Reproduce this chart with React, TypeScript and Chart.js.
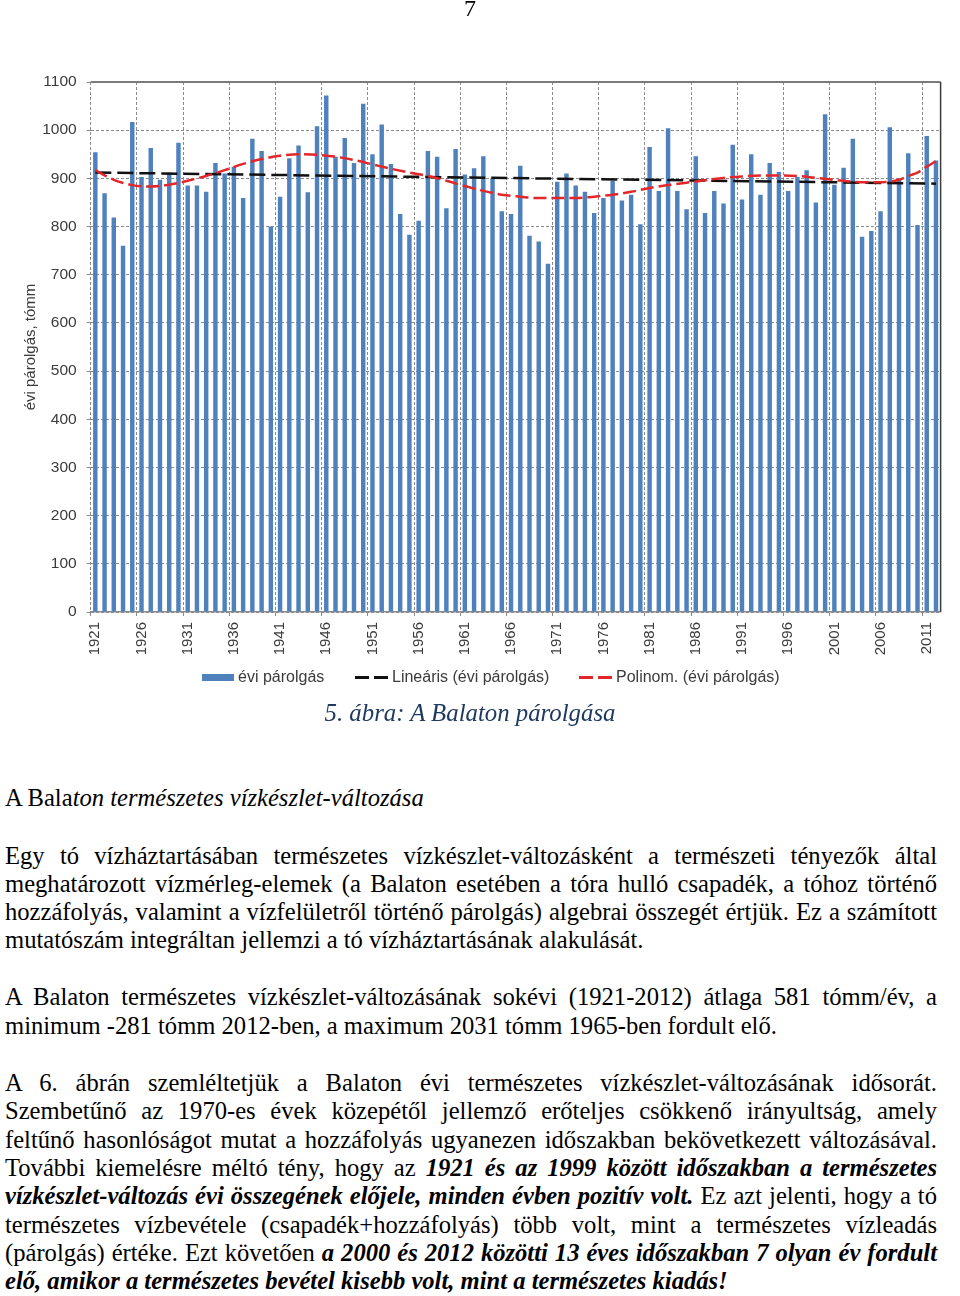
import React, { useEffect, useLayoutEffect, useRef } from 'react';
import { Chart, registerables } from 'chart.js';

Chart.register(...registerables);

// ---------- DATA ----------
const years = [
  '1921', '1922', '1923', '1924', '1925', '1926', '1927', '1928', '1929', '1930',
  '1931', '1932', '1933', '1934', '1935', '1936', '1937', '1938', '1939', '1940',
  '1941', '1942', '1943', '1944', '1945', '1946', '1947', '1948', '1949', '1950',
  '1951', '1952', '1953', '1954', '1955', '1956', '1957', '1958', '1959', '1960',
  '1961', '1962', '1963', '1964', '1965', '1966', '1967', '1968', '1969', '1970',
  '1971', '1972', '1973', '1974', '1975', '1976', '1977', '1978', '1979', '1980',
  '1981', '1982', '1983', '1984', '1985', '1986', '1987', '1988', '1989', '1990',
  '1991', '1992', '1993', '1994', '1995', '1996', '1997', '1998', '1999', '2000',
  '2001', '2002', '2003', '2004', '2005', '2006', '2007', '2008', '2009', '2010',
  '2011', '2012',
];

const evaporation = [
  954, 869, 819, 760, 1017, 903, 963, 897, 912, 974,
  885, 885, 872, 932, 910, 924, 859, 982, 957, 800,
  862, 942, 968, 871, 1008, 1072, 945, 984, 932, 1055,
  950, 1012, 930, 826, 783, 812, 957, 945, 838, 961,
  908, 921, 946, 900, 832, 826, 926, 781, 769, 723,
  893, 910, 885, 872, 828, 859, 895, 854, 866, 805,
  965, 874, 1004, 874, 836, 946, 828, 874, 848, 970,
  856, 950, 866, 932, 913, 874, 903, 917, 850, 1033,
  887, 922, 982, 779, 791, 832, 1006, 897, 952, 803,
  988, 937,
];

const linearYears = ['1921', '2012'];
const linearValues = [912, 889];

const polyYears = [
  '1921', '1923', '1925', '1927', '1929', '1931', '1933', '1935', '1937', '1939',
  '1941', '1943', '1945', '1947', '1949', '1951', '1953', '1955', '1957', '1959',
  '1961', '1963', '1965', '1967', '1969', '1971', '1973', '1975', '1977', '1979',
  '1981', '1983', '1985', '1987', '1989', '1991', '1993', '1995', '1997', '1999',
  '2001', '2003', '2005', '2007', '2008', '2009', '2010', '2011', '2012',
];
const polyValues = [
  917, 897, 886, 883, 887, 895, 905, 917, 930, 940,
  947, 950, 949, 945, 938, 929, 920, 912, 905, 895,
  884, 874, 866, 862, 859, 859, 859, 862, 866, 872,
  880, 886, 891, 896, 901, 904, 906, 906, 905, 901,
  897, 893, 892, 893, 897, 905, 912, 924, 936,
];

const yTitle = 'évi párolgás, tómm';
const legendBar = 'évi párolgás';
const legendLinear = 'Lineáris (évi párolgás)';
const legendPoly = 'Polinom. (évi párolgás)';

const BAR_COLOR = '#4f81bd';
const RED = '#e3262a';
const GRID = '#8c8c8c';
const TICK_TEXT = '#3b3b3b';
const SANS = '"Liberation Sans", Arial, sans-serif';
const SERIF = '"Liberation Serif", "Times New Roman", serif';
const BODY_SIZE = 24.6;

function EvapChart() {
  const ref = useRef<HTMLCanvasElement>(null);
  useEffect(() => {
    if (!ref.current) return;
    const framePlugin = {
      id: 'frame',
      afterDraw(chart: any) {
        const { ctx, chartArea: a } = chart;
        ctx.save();
        ctx.strokeStyle = '#7a7a7a';
        ctx.lineWidth = 2;
        ctx.beginPath();
        ctx.moveTo(a.left, a.top);
        ctx.lineTo(a.right, a.top);
        ctx.stroke();
        ctx.strokeStyle = '#3a3a3a';
        ctx.lineWidth = 1.5;
        ctx.beginPath();
        ctx.moveTo(a.right, a.top);
        ctx.lineTo(a.right, a.bottom);
        ctx.stroke();
        ctx.restore();
      },
    };
    const gridColor = (c: any) => (c.index % 5 === 0 ? GRID : 'rgba(0,0,0,0)');
    const chart = new Chart(ref.current, {
      type: 'bar',
      data: {
        labels: years,
        datasets: [
          {
            type: 'line',
            label: legendPoly,
            data: polyYears.map((y, i) => ({ x: y, y: polyValues[i] })),
            borderColor: RED,
            borderWidth: 2.5,
            borderDash: [13, 5],
            pointRadius: 0,
            cubicInterpolationMode: 'monotone',
            order: 0,
          } as any,
          {
            type: 'line',
            label: legendLinear,
            data: linearYears.map((y, i) => ({ x: y, y: linearValues[i] })),
            borderColor: '#111111',
            borderWidth: 2.5,
            borderDash: [16, 6],
            pointRadius: 0,
            order: 1,
          } as any,
          {
            type: 'bar',
            label: legendBar,
            data: evaporation,
            backgroundColor: BAR_COLOR,
            barPercentage: 0.48,
            categoryPercentage: 1,
            order: 2,
          },
        ],
      },
      options: {
        responsive: false,
        animation: false,
        devicePixelRatio: 1,
        layout: { padding: { left: 18, top: 82, right: 3.6, bottom: 0 } },
        plugins: { legend: { display: false }, tooltip: { enabled: false } },
        scales: {
          x: {
            offset: true,
            grid: { offset: true, color: gridColor, tickColor: gridColor, tickLength: 4, lineWidth: 1 },
            border: { display: true, color: GRID, width: 1.5, dash: [3, 2] },
            ticks: {
              autoSkip: false,
              minRotation: 90,
              maxRotation: 90,
              padding: 6,
              color: TICK_TEXT,
              font: { family: SANS, size: 15 },
              callback: (_v: any, i: number) => (i % 5 === 0 ? years[i] : ''),
            },
            afterFit: (s: any) => {
              s.height = 88;
            },
          },
          y: {
            min: 0,
            max: 1100,
            ticks: {
              stepSize: 100,
              padding: 10,
              color: TICK_TEXT,
              font: { family: SANS, size: 15.5 },
              callback: (v: any) => String(v),
            },
            grid: { color: GRID, tickColor: GRID, tickLength: 4, lineWidth: 1 },
            border: { display: false, dash: [3, 2] },
            title: {
              display: true,
              text: yTitle,
              color: TICK_TEXT,
              font: { family: SANS, size: 15 },
              padding: { top: 4, bottom: 4 },
            },
            afterFit: (s: any) => {
              s.width = 72.7;
            },
          },
        },
      } as any,
      plugins: [framePlugin],
    });
    return () => chart.destroy();
  }, []);
  return (
    <canvas
      ref={ref}
      width={960}
      height={700}
      style={{ position: 'absolute', left: 0, top: 0, width: 960, height: 700 }}
    />
  );
}

const TEXT_LEFT = 5;
const TEXT_RIGHT = 937;

function TextLine({ top, justify, children }: { top: number; justify?: boolean; children: any }) {
  const ref = useRef<HTMLSpanElement>(null);
  useLayoutEffect(() => {
    const el = ref.current;
    if (!el || !justify) return;
    const fit = () => {
      el.style.wordSpacing = '0px';
      const w = el.getBoundingClientRect().width;
      const n = (el.textContent || '').split(' ').length - 1;
      if (n > 0) el.style.wordSpacing = `${(TEXT_RIGHT - TEXT_LEFT - w) / n}px`;
    };
    fit();
    if ((document as any).fonts && (document as any).fonts.ready) (document as any).fonts.ready.then(fit);
  }, [justify]);
  return (
    <div
      style={{
        position: 'absolute',
        left: TEXT_LEFT,
        top,
        whiteSpace: 'nowrap',
        fontFamily: SERIF,
        fontSize: BODY_SIZE,
        lineHeight: '28px',
        color: '#000',
      }}
    >
      <span ref={ref}>{children}</span>
    </div>
  );
}

const BI = ({ children }: { children: any }) => (
  <span style={{ fontWeight: 'bold', fontStyle: 'italic' }}>{children}</span>
);

function LegendDash({ left, color }: { left: number; color: string }) {
  return (
    <>
      <div style={{ position: 'absolute', left, top: 676, width: 14, height: 2.5, background: color }} />
      <div style={{ position: 'absolute', left: left + 19, top: 676, width: 14, height: 2.5, background: color }} />
    </>
  );
}

const legendText: React.CSSProperties = {
  position: 'absolute',
  top: 668,
  fontFamily: SANS,
  fontSize: 16,
  lineHeight: '18px',
  color: TICK_TEXT,
  whiteSpace: 'nowrap',
};

export default function App() {
  const L = (y: number) => y - 14;
  return (
    <div
      style={{
        position: 'absolute',
        left: 0,
        top: 0,
        width: 960,
        height: 1296,
        background: '#fff',
        overflow: 'hidden',
      }}
    >
      <EvapChart />
      <div
        style={{
          position: 'absolute',
          left: 0,
          width: 940,
          top: -4,
          textAlign: 'center',
          fontFamily: SERIF,
          fontSize: 24,
          lineHeight: '24px',
          color: '#000',
        }}
      >
        7
      </div>

      {/* legend */}
      <div style={{ position: 'absolute', left: 202, top: 674, width: 32, height: 7, background: BAR_COLOR }} />
      <div style={{ ...legendText, left: 238 }}>{legendBar}</div>
      <LegendDash left={355} color="#111" />
      <div style={{ ...legendText, left: 392 }}>{legendLinear}</div>
      <LegendDash left={579} color={RED} />
      <div style={{ ...legendText, left: 616 }}>{legendPoly}</div>

      {/* caption */}
      <div
        style={{
          position: 'absolute',
          left: 0,
          width: 940,
          top: L(713),
          textAlign: 'center',
          fontFamily: SERIF,
          fontStyle: 'italic',
          fontSize: 24.8,
          lineHeight: '28px',
          color: '#1f3a60',
          whiteSpace: 'nowrap',
        }}
      >
        5. ábra: A Balaton párolgása
      </div>

      <TextLine top={L(798)}>
        A Bala<i>ton természetes vízkészlet-változása</i>
      </TextLine>

      <TextLine top={L(856)} justify>
        Egy tó vízháztartásában természetes vízkészlet-változásként a természeti tényezők által
      </TextLine>
      <TextLine top={L(884)} justify>
        meghatározott vízmérleg-elemek (a Balaton esetében a tóra hulló csapadék, a tóhoz történő
      </TextLine>
      <TextLine top={L(912)} justify>
        hozzáfolyás, valamint a vízfelületről történő párolgás) algebrai összegét értjük. Ez a számított
      </TextLine>
      <TextLine top={L(940)}>mutatószám integráltan jellemzi a tó vízháztartásának alakulását.</TextLine>

      <TextLine top={L(997)} justify>
        A Balaton természetes vízkészlet-változásának sokévi (1921-2012) átlaga 581 tómm/év, a
      </TextLine>
      <TextLine top={L(1026)}>minimum -281 tómm 2012-ben, a maximum 2031 tómm 1965-ben fordult elő.</TextLine>

      <TextLine top={L(1083)} justify>
        A 6. ábrán szemléltetjük a Balaton évi természetes vízkészlet-változásának idősorát.
      </TextLine>
      <TextLine top={L(1111)} justify>
        Szembetűnő az 1970-es évek közepétől jellemző erőteljes csökkenő irányultság, amely
      </TextLine>
      <TextLine top={L(1140)} justify>
        feltűnő hasonlóságot mutat a hozzáfolyás ugyanezen időszakban bekövetkezett változásával.
      </TextLine>
      <TextLine top={L(1168)} justify>
        További kiemelésre méltó tény, hogy az <BI>1921 és az 1999 között időszakban a természetes</BI>
      </TextLine>
      <TextLine top={L(1196)} justify>
        <BI>vízkészlet-változás évi összegének előjele, minden évben pozitív volt.</BI> Ez azt jelenti, hogy a tó
      </TextLine>
      <TextLine top={L(1225)} justify>
        természetes vízbevétele (csapadék+hozzáfolyás) több volt, mint a természetes vízleadás
      </TextLine>
      <TextLine top={L(1253)} justify>
        (párolgás) értéke. Ezt követően <BI>a 2000 és 2012 közötti 13 éves időszakban 7 olyan év fordult</BI>
      </TextLine>
      <TextLine top={L(1281)}>
        <BI>elő, amikor a természetes bevétel kisebb volt, mint a természetes kiadás!</BI>
      </TextLine>
    </div>
  );
}
